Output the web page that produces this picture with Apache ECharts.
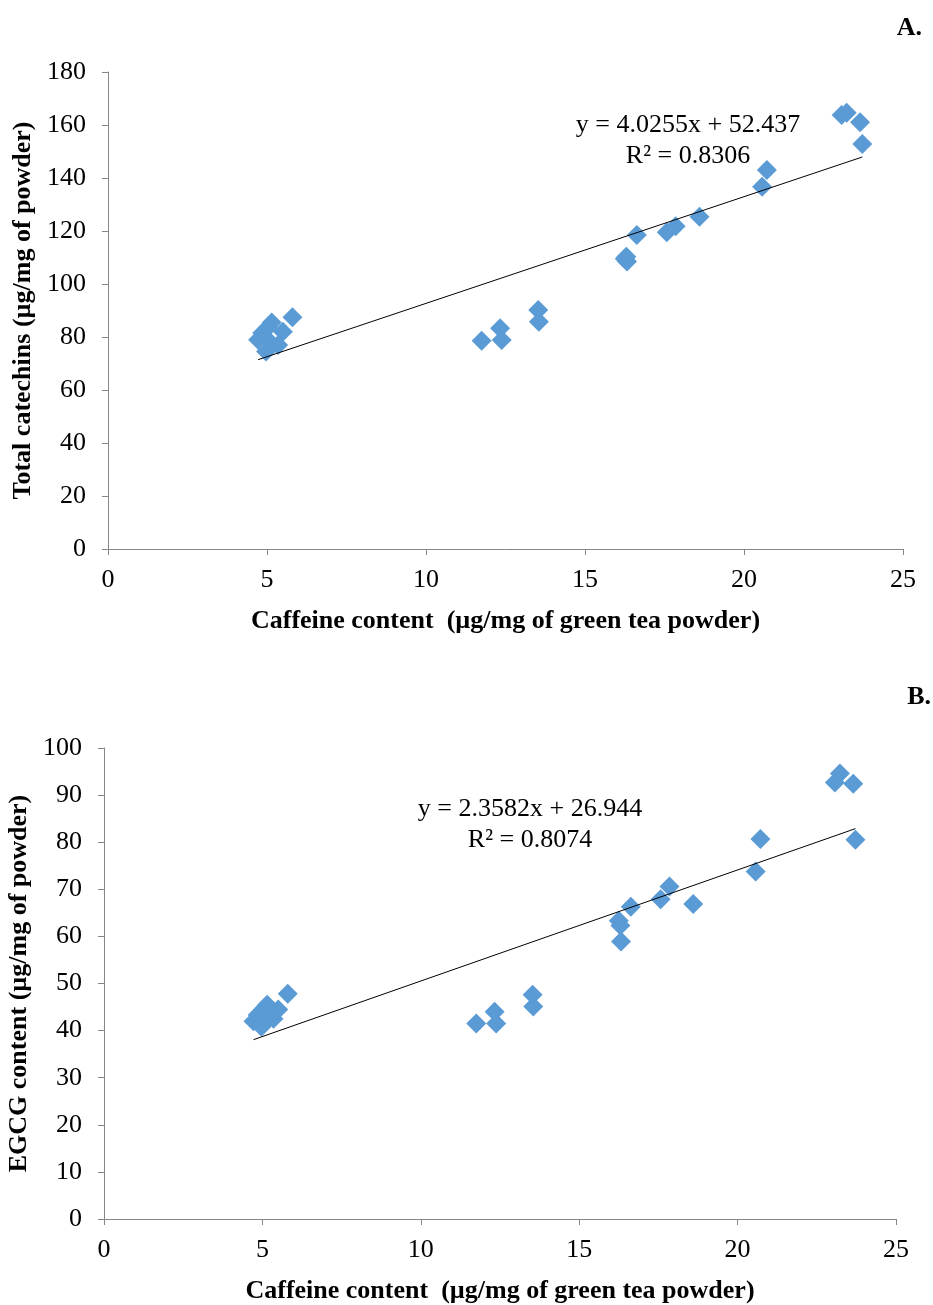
<!DOCTYPE html>
<html>
<head>
<meta charset="utf-8">
<script src="https://cdn.jsdelivr.net/npm/echarts@6/dist/echarts.min.js"></script>
<style>
html,body{margin:0;padding:0;background:#fff;}
#chart{width:933px;height:1305px;}
</style>
</head>
<body>
<div id="chart"></div>
<script>
// Caffeine content (µg/mg of green tea powder)
const caffeine = [4.72, 4.85, 4.97, 5.02, 5.15, 5.10, 5.35, 5.50, 5.80,
  11.75, 12.33, 12.38, 13.53, 13.55,
  16.25, 16.30, 16.32, 16.63, 17.57, 17.85, 18.60, 20.57, 20.72, 23.07, 23.23, 23.65, 23.72];
// Total catechins (µg/mg of powder)
const catechins = [79.0, 81.5, 74.5, 83.5, 85.5, 78.0, 77.0, 82.0, 87.5,
  78.6, 83.3, 78.9, 90.2, 85.8,
  109.5, 110.3, 108.5, 118.5, 119.5, 121.8, 125.4, 136.7, 143.0, 163.8, 164.6, 161.0, 152.8];
// EGCG content (µg/mg of powder)
const egcg = [42.0, 43.3, 40.8, 44.5, 45.5, 42.0, 42.5, 44.5, 47.8,
  41.5, 44.0, 41.5, 47.6, 45.1,
  63.3, 62.3, 58.9, 66.3, 67.9, 70.6, 66.9, 73.8, 80.7, 92.7, 94.6, 92.4, 80.5];

// Linear trendlines (as reported on the chart)
const fitA = {slope: 4.0255, intercept: 52.437, r2: '0.8306'};
const fitB = {slope: 2.3582, intercept: 26.944, r2: '0.8074'};

const xTitle = 'Caffeine content  (µg/mg of green tea powder)';
const yTitleA = 'Total catechins (µg/mg of powder)';
const yTitleB = 'EGCG content (µg/mg of powder)';
const panelLabels = ['A.', 'B.'];

const FONT = '"Liberation Serif", "Times New Roman", serif';
const FS = 26;
const AXC = '#868686';

function pairs(xs, ys){ return xs.map((x,i)=>[x, ys[i]]); }
function trend(xs, fit){
  const lo = Math.min(...xs), hi = Math.max(...xs);
  return [[lo, fit.slope*lo + fit.intercept], [hi, fit.slope*hi + fit.intercept]];
}
function eqText(fit){ return 'y = ' + fit.slope.toFixed(4) + 'x + ' + fit.intercept.toFixed(3) + '\nR² = ' + fit.r2; }

function xAxisCfg(gi){
  return {
    gridIndex: gi, type: 'value', min: 0, max: 25, interval: 5,
    name: xTitle, nameLocation: 'middle', nameGap: 59,
    nameTextStyle: {fontFamily: FONT, fontSize: FS, fontWeight: 'bold', color: '#000'},
    axisLine: {onZero: false, lineStyle: {color: AXC, width: 1}},
    axisTick: {show: true, inside: false, length: 6, lineStyle: {color: AXC}},
    axisLabel: {fontFamily: FONT, fontSize: FS, color: '#000', margin: 18},
    splitLine: {show: false}
  };
}
function yAxisCfg(gi, max, interval, title, gap){
  return {
    gridIndex: gi, type: 'value', min: 0, max: max, interval: interval,
    name: title, nameLocation: 'middle', nameGap: gap, nameRotate: 90,
    nameTextStyle: {fontFamily: FONT, fontSize: FS, fontWeight: 'bold', color: '#000'},
    axisLine: {show: true, lineStyle: {color: AXC, width: 1}},
    axisTick: {show: true, inside: false, length: 6, lineStyle: {color: AXC}},
    axisLabel: {fontFamily: FONT, fontSize: FS, color: '#000', margin: 22},
    splitLine: {show: false}
  };
}
const scatterStyle = {color: '#5B9BD5', opacity: 1};

const chart = echarts.init(document.getElementById('chart'), null, {renderer: 'canvas'});
chart.setOption({
  backgroundColor: '#fff',
  animation: false,
  grid: [
    {left: 108, top: 72, width: 795, height: 477, outerBoundsMode: 'none', containLabel: false},
    {left: 104, top: 748, width: 792, height: 471, outerBoundsMode: 'none', containLabel: false}
  ],
  xAxis: [xAxisCfg(0), xAxisCfg(1)],
  yAxis: [yAxisCfg(0, 180, 20, yTitleA, 72), yAxisCfg(1, 100, 10, yTitleB, 72)],
  series: [
    {type: 'scatter', xAxisIndex: 0, yAxisIndex: 0, data: pairs(caffeine, catechins),
     symbol: 'diamond', symbolSize: 20, itemStyle: scatterStyle, z: 3},
    {type: 'line', xAxisIndex: 0, yAxisIndex: 0, data: trend(caffeine, fitA),
     symbol: 'none', lineStyle: {color: '#000', width: 1}, z: 4},
    {type: 'scatter', xAxisIndex: 1, yAxisIndex: 1, data: pairs(caffeine, egcg),
     symbol: 'diamond', symbolSize: 20, itemStyle: scatterStyle, z: 3},
    {type: 'line', xAxisIndex: 1, yAxisIndex: 1, data: trend(caffeine, fitB),
     symbol: 'none', lineStyle: {color: '#000', width: 1}, z: 4}
  ],
  graphic: [
    {type: 'text', style: {text: eqText(fitA), x: 688, y: 110, align: 'center', font: FS + 'px ' + FONT, fill: '#000', lineHeight: 31}},
    {type: 'text', style: {text: eqText(fitB), x: 530, y: 794, align: 'center', font: FS + 'px ' + FONT, fill: '#000', lineHeight: 31}},
    {type: 'text', style: {text: panelLabels[0], x: 922, y: 28, align: 'right', verticalAlign: 'middle', font: 'bold ' + FS + 'px ' + FONT, fill: '#000'}},
    {type: 'text', style: {text: panelLabels[1], x: 931, y: 697, align: 'right', verticalAlign: 'middle', font: 'bold ' + FS + 'px ' + FONT, fill: '#000'}}
  ]
});
</script>
</body>
</html>
